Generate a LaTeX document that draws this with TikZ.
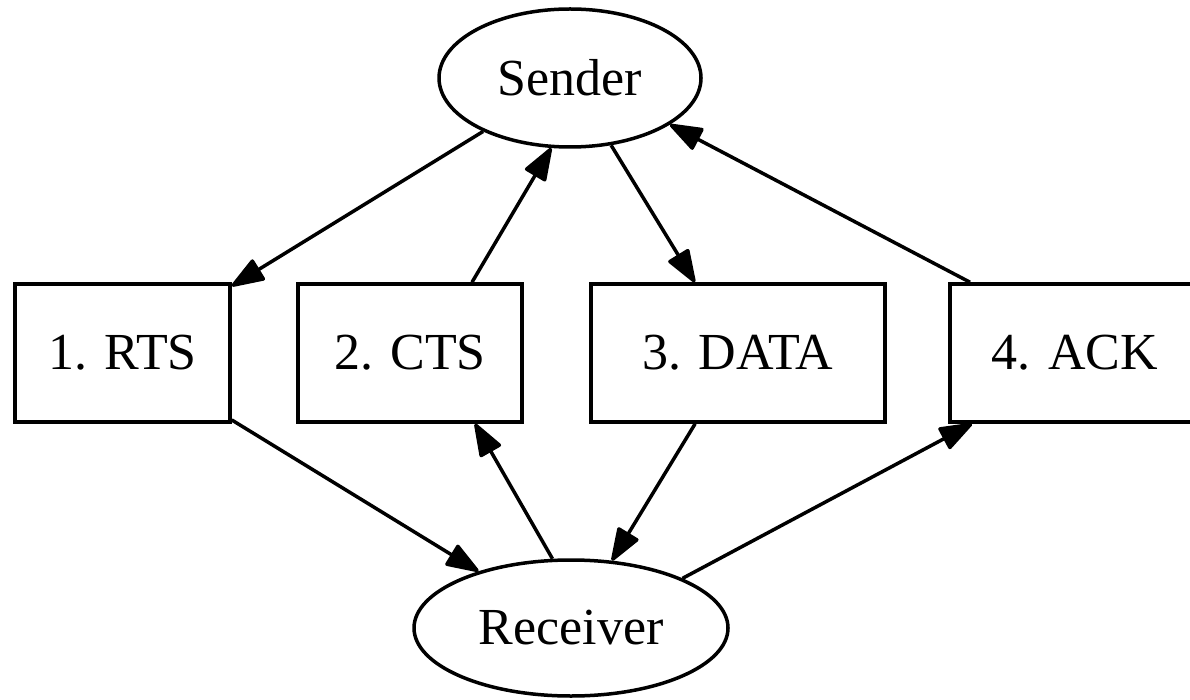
\documentclass[tikz,border=0pt]{standalone}
\usepackage{fontspec}
\setmainfont{Liberation Serif}
\usetikzlibrary{shapes.geometric,arrows.meta}
\begin{document}
\begin{tikzpicture}[x=1pt,y=-1pt,
  every node/.style={font=\fontsize{52}{56}\selectfont, inner sep=0pt},
  ell/.style={draw, line width=3.5pt, ellipse},
  box/.style={draw, line width=3.5pt, rectangle, minimum height=138pt},
  edge/.style={line width=3.5pt, -{Triangle[length=36pt,width=25pt,round]}}]
\useasboundingbox (0,0) rectangle (1190,700);
\clip (0,0) rectangle (1190,700);
\node[ell, minimum width=262pt, minimum height=138pt] (s) at (570,78) {Sender};
\node[ell, minimum width=314pt, minimum height=136pt] (r) at (571,628) {Receiver};
\node[box, minimum width=215pt] (rts) at (122.5,353) {1. RTS};
\node[box, minimum width=224pt] (cts) at (410,353) {2. CTS};
\node[box, minimum width=294pt] (data) at (738,353) {3. DATA};
\node[box, minimum width=250pt] (ack) at (1075,353) {4. ACK};
\draw[edge] (s) -- (rts);
\draw[edge] ([xshift=62pt]cts.north) -- (s.255.6);
\draw[edge] (s) -- (data);
\draw[edge] ([xshift=-105pt]ack.north) -- (s.335.6);
\draw[edge] (rts) -- (r);
\draw[edge] (r.105.2) -- ([xshift=65pt]cts.south);
\draw[edge] (data) -- (r);
\draw[edge] (r.24.6) -- ([xshift=-103pt]ack.south);
\end{tikzpicture}
\end{document}
